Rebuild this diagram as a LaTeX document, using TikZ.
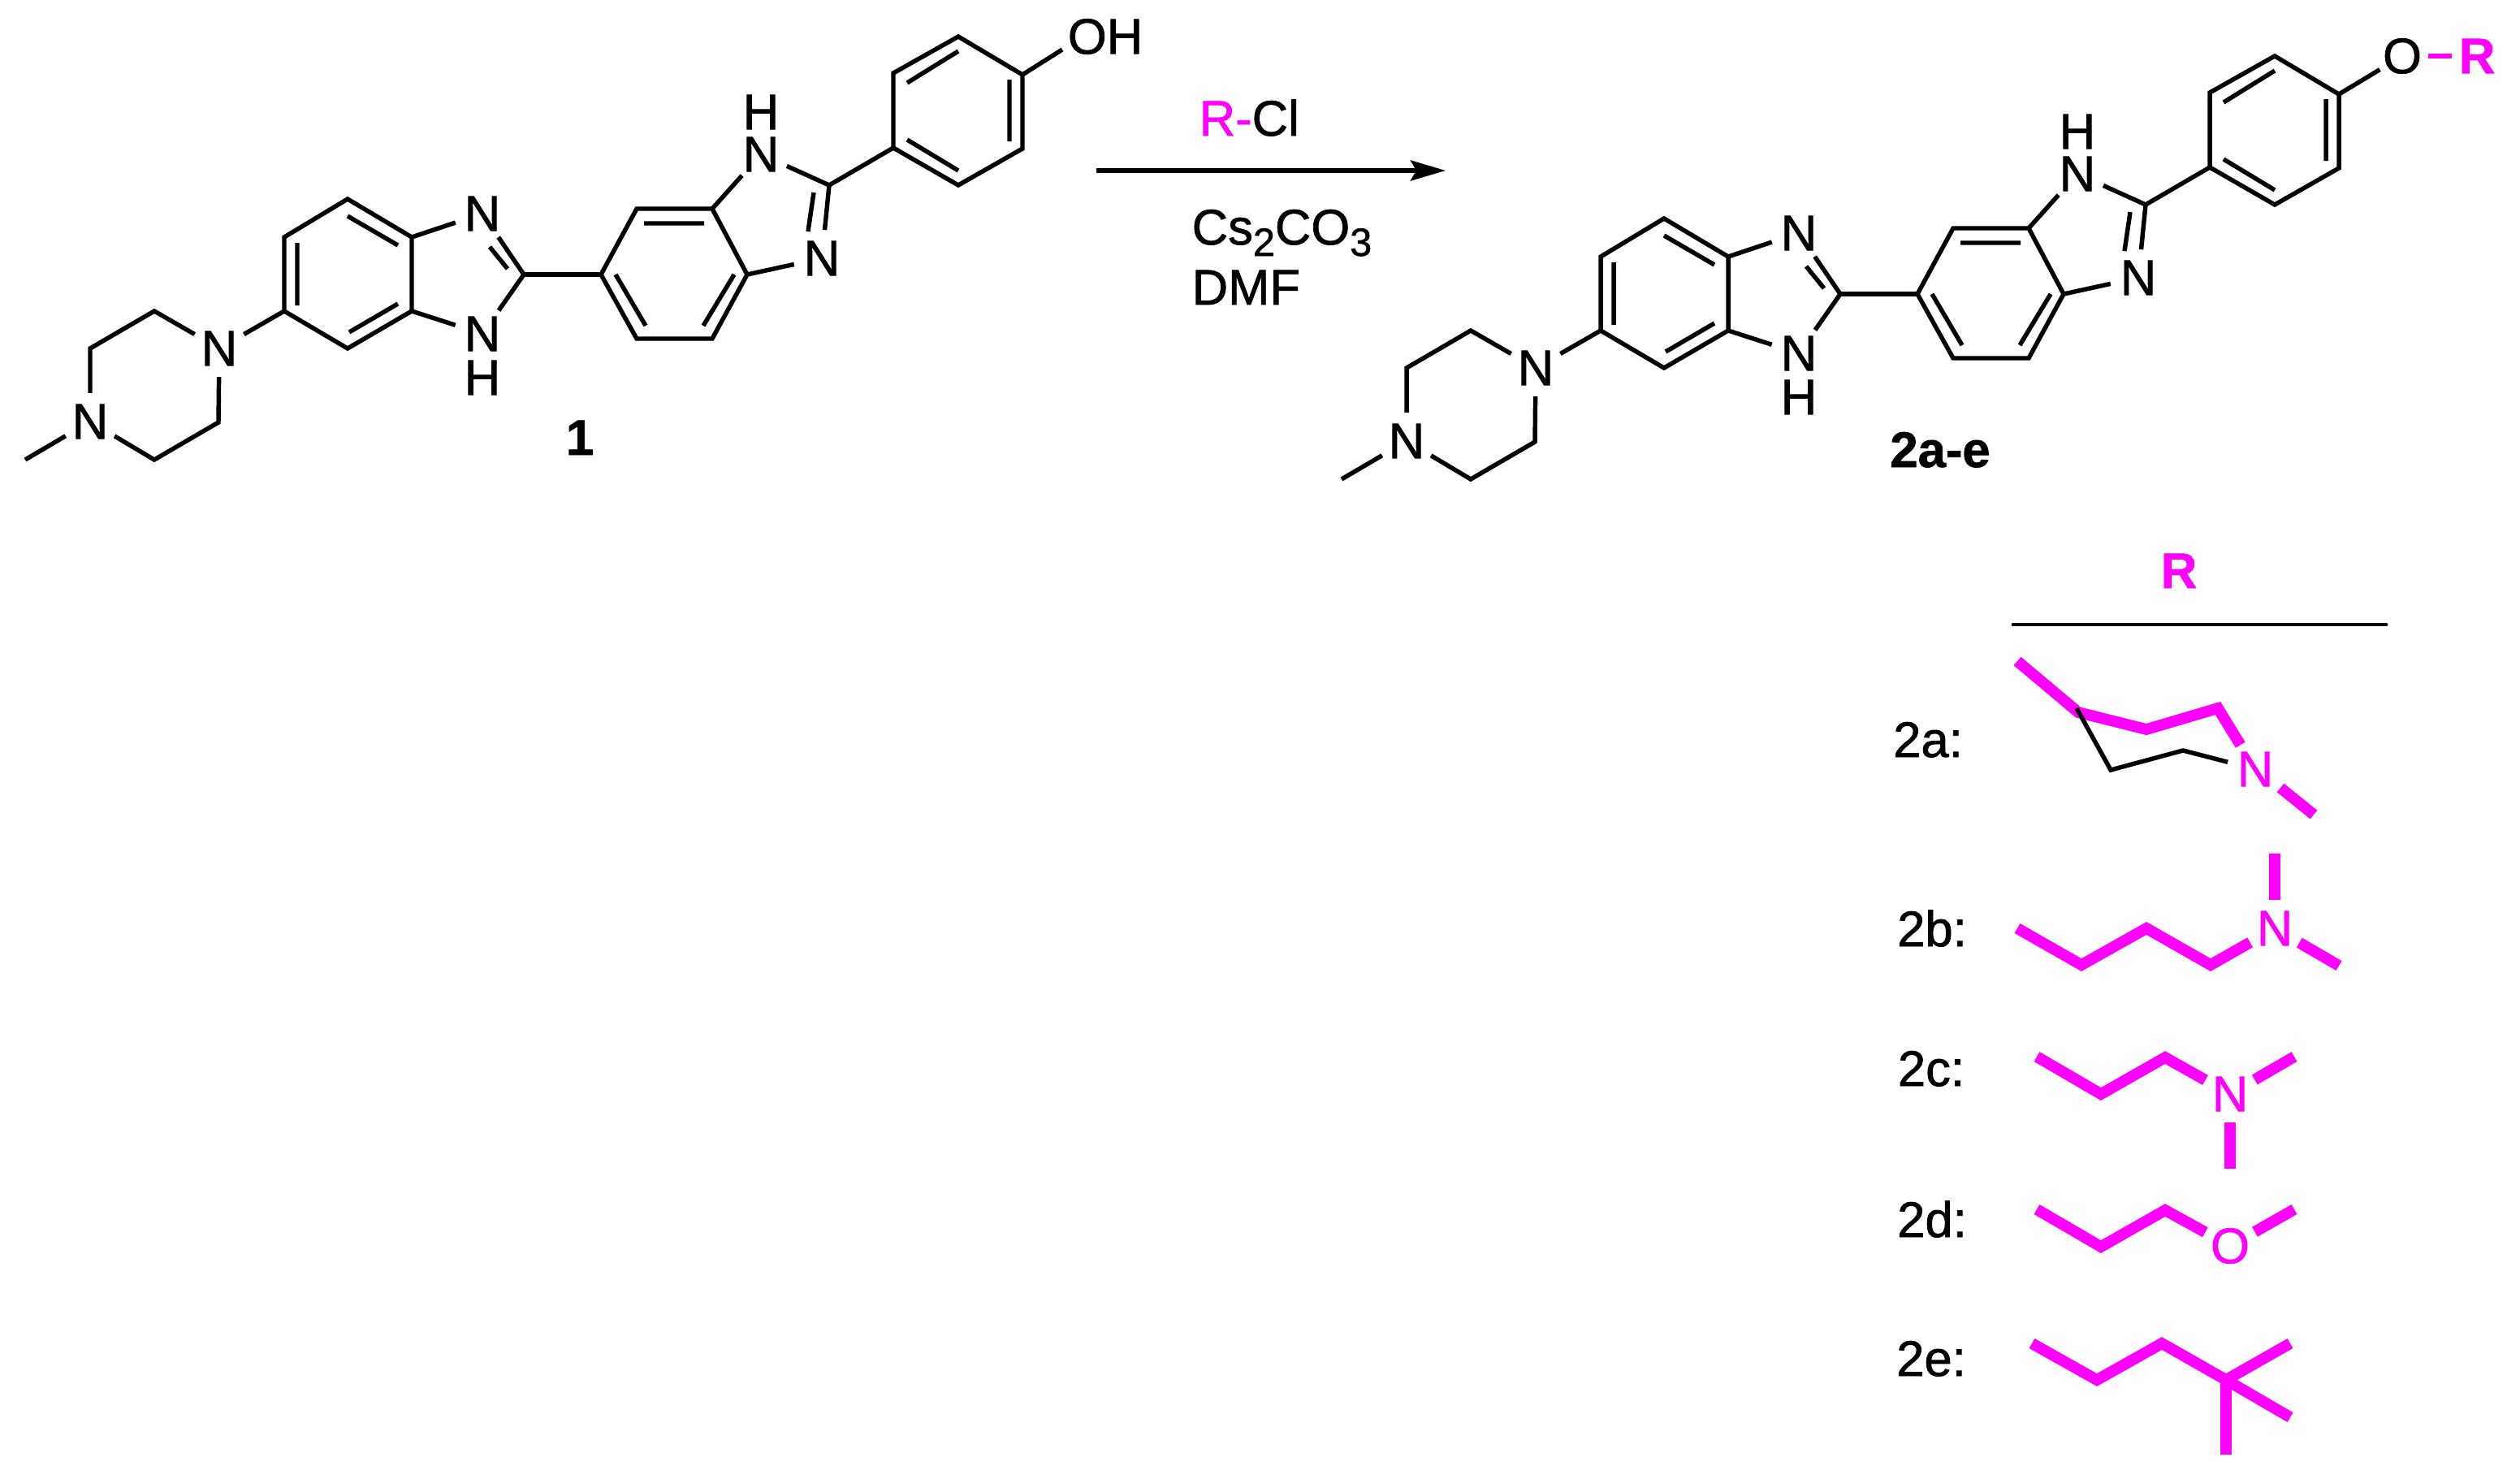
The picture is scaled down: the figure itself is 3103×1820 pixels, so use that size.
\documentclass[tikz,border=0pt]{standalone}
\usepackage{fontspec}
\setmainfont{Liberation Sans}[FakeBold=1.2,BoldFeatures={FakeBold=1.2}]
\usetikzlibrary{arrows.meta}
\definecolor{rmag}{RGB}{255,0,255}
\tikzset{
  bond/.style={line width=1.55pt,black,line join=miter},
  rchain/.style={line width=3.9pt,rmag,line join=miter},
  thinlabel/.style={font=\fontsize{17.5}{20}\selectfont},
  atom/.style={thinlabel,circle,inner sep=0pt,outer sep=0pt,minimum size=0.7cm},
  ratom/.style={atom,text=rmag},
  txt/.style={thinlabel,anchor=base,inner sep=0pt},
  boldtxt/.style={txt,font=\fontsize{17.5}{20}\selectfont\bfseries},
  rxnarrow/.style={line width=1.45pt,-{Stealth[length=0.43cm,width=0.25cm,inset=0.07cm]}},
  tablerule/.style={line width=1.35pt,line cap=round}
}
\newcommand{\molcore}[1]{%
  % left benzene
  \coordinate (#1a1) at (428,245); \coordinate (#1a2) at (507,292);
  \coordinate (#1a3) at (507,383); \coordinate (#1a4) at (428,429);
  \coordinate (#1a5) at (350,383); \coordinate (#1a6) at (350,292);
  % imidazole 1
  \coordinate (#1c2) at (645,338);
  \node[atom] (#1n1) at (594,263) {N};
  \node[atom] (#1n2) at (594,411) {N};
  \node[atom] (#1h2) at (594,465) {H};
  % central benzene
  \coordinate (#1b1) at (740,338); \coordinate (#1b2) at (784,257);
  \coordinate (#1b3) at (877,257); \coordinate (#1b4) at (920,338);
  \coordinate (#1b5) at (877,417); \coordinate (#1b6) at (784,417);
  % imidazole 2
  \coordinate (#1d2) at (1021,228);
  \node[atom] (#1n3) at (1012,318) {N};
  \node[atom] (#1n4) at (937,190) {N};
  \node[atom] (#1h4) at (937,138) {H};
  % phenyl
  \coordinate (#1c1) at (1100,182); \coordinate (#1cb) at (1100,90);
  \coordinate (#1cc) at (1180,45);  \coordinate (#1cd) at (1259,92);
  \coordinate (#1ce) at (1259,183); \coordinate (#1cf) at (1180,228);
  % piperazine
  \node[atom] (#1n5) at (270,429) {N};
  \node[atom] (#1n6) at (111,519) {N};
  \coordinate (#1p1) at (190,383); \coordinate (#1p2) at (111,429);
  \coordinate (#1p3) at (190,566); \coordinate (#1p4) at (269,520);
  \coordinate (#1me) at (31,566);
  % inner double bond ends
  \coordinate (#1i1) at (428,266); \coordinate (#1i2) at (490,302);
  \coordinate (#1i3) at (366,299); \coordinate (#1i4) at (366,376);
  \coordinate (#1i5) at (490,374); \coordinate (#1i6) at (430,409);
  \coordinate (#1i7) at (603,304); \coordinate (#1i8) at (625,331);
  \coordinate (#1i9) at (793,275); \coordinate (#1i10) at (867,275);
  \coordinate (#1i11) at (758,338); \coordinate (#1i12) at (795,401);
  \coordinate (#1i13) at (904,338); \coordinate (#1i14) at (866,401);
  \coordinate (#1i15) at (1002,237); \coordinate (#1i16) at (995,285);
  \coordinate (#1i17) at (1117,172); \coordinate (#1i18) at (1180,210);
  \coordinate (#1i19) at (1117,102); \coordinate (#1i20) at (1180,63);
  \coordinate (#1i21) at (1243,98); \coordinate (#1i22) at (1243,174);
  % rings
  \draw[bond] (#1a1)--(#1a2)--(#1a3)--(#1a4)--(#1a5)--(#1a6)--cycle;
  \draw[bond] (#1b1)--(#1b2)--(#1b3)--(#1b4)--(#1b5)--(#1b6)--cycle;
  \draw[bond] (#1c1)--(#1cb)--(#1cc)--(#1cd)--(#1ce)--(#1cf)--cycle;
  % inner lines
  \draw[bond] (#1i1)--(#1i2) (#1i3)--(#1i4) (#1i5)--(#1i6);
  \draw[bond] (#1i9)--(#1i10) (#1i11)--(#1i12) (#1i13)--(#1i14);
  \draw[bond] (#1i17)--(#1i18) (#1i19)--(#1i20) (#1i21)--(#1i22);
  % imidazole bonds
  \draw[bond] (#1a2)--(#1n1) (#1n1)--(#1c2) (#1i7)--(#1i8) (#1c2)--(#1n2) (#1n2)--(#1a3);
  \draw[bond] (#1c2)--(#1b1);
  \draw[bond] (#1b3)--(#1n4) (#1n4)--(#1d2) (#1d2)--(#1n3) (#1i15)--(#1i16) (#1n3)--(#1b4);
  \draw[bond] (#1d2)--(#1c1);
  % piperazine bonds
  \draw[bond] (#1a5)--(#1n5);
  \draw[bond] (#1n5)--(#1p1)--(#1p2)--(#1n6);
  \draw[bond] (#1n6)--(#1p3)--(#1p4)--(#1n5);
  \draw[bond] (#1n6)--(#1me);
}
\begin{document}
\begin{tikzpicture}[x=0.01cm,y=-0.01cm]
\useasboundingbox (0,0) rectangle (3103,1820);
\fill[white] (0,0) rectangle (3103,1820);

% compound 1
\begin{scope}
  \molcore{m}
\end{scope}
\node[thinlabel,inner sep=0pt] (mOH) at (1361,45) {OH};
\coordinate (mOHbond) at (1308,61);
\draw[bond] (mcd)--(mOHbond);
\node[boldtxt] (lab1) at (714,560) {1};

% arrow and reagents
\coordinate (arrS) at (1350,210);
\coordinate (arrE) at (1780,210);
\draw[rxnarrow] (arrS)--(arrE);
\node[thinlabel,anchor=base west,inner sep=0pt] (rcl) at (1476,167) {\textcolor{rmag}{R-}Cl};
\node[thinlabel,anchor=base west,inner sep=0pt] (cs) at (1467,301) {Cs\raisebox{-14\dimexpr 0.01cm\relax}{\fontsize{13.8}{15}\selectfont 2}CO\raisebox{-14\dimexpr 0.01cm\relax}{\fontsize{13.8}{15}\selectfont 3}};
\node[thinlabel,anchor=base west,inner sep=0pt] (dmf) at (1467,375) {DMF};

% compound 2
\begin{scope}[shift={(1621,24)}]
  \molcore{q}
\end{scope}
\node[atom,minimum size=0.62cm] (qO) at (2958,69) {O};
\node[atom,minimum size=0.58cm,text=rmag,font=\fontsize{17.5}{20}\selectfont\bfseries] (qR) at (3050,69) {R};
\draw[bond] (qcd)--(qO);
\draw[bond,rmag] (qO)--(qR);
\node[boldtxt] (lab2) at (2389,575) {2a-e};

% R table
\node[boldtxt,text=rmag] (rhead) at (2683,724) {R};
\coordinate (ruleL) at (2479,769);
\coordinate (ruleR) at (2938,769);
\draw[tablerule] (ruleL)--(ruleR);

% 2a
\node[txt] (l2a) at (2374,932) {2a:};
\node[ratom] (an) at (2777,947) {N};
\coordinate (a0) at (2484,814); \coordinate (a1) at (2559,877);
\coordinate (a2) at (2643,898); \coordinate (a3) at (2731,872);
\coordinate (am) at (2849,1003); \coordinate (am1) at (2808,970);
\coordinate (ab0) at (2557,872); \coordinate (ab1) at (2599,948); \coordinate (ab2) at (2688,924);
\draw[rchain] (a0)--(a1)--(a2)--(a3)--(an);
\draw[rchain] (am1)--(am);
\draw[bond] (ab0)--(ab1)--(ab2)--(an);

% 2b
\node[txt] (l2b) at (2379,1165) {2b:};
\node[ratom] (bn) at (2801,1143) {N};
\coordinate (b0) at (2484,1143); \coordinate (b1) at (2563,1188);
\coordinate (b2) at (2643,1143); \coordinate (b3) at (2722,1188);
\coordinate (bt) at (2801,1051); \coordinate (bm) at (2880,1189);
\draw[rchain] (b0)--(b1)--(b2)--(b3)--(bn);
\draw[rchain] (bn)--(bt);
\draw[rchain] (bn)--(bm);

% 2c
\node[txt] (l2c) at (2378,1337) {2c:};
\node[ratom] (cn) at (2746,1347) {N};
\coordinate (c0) at (2508,1301); \coordinate (c1) at (2587,1347);
\coordinate (c2) at (2666,1302); \coordinate (cm) at (2825,1301);
\coordinate (cb) at (2746,1439);
\draw[rchain] (c0)--(c1)--(c2)--(cn);
\draw[rchain] (cn)--(cm);
\draw[rchain] (cn)--(cb);

% 2d
\node[txt] (l2d) at (2379,1523) {2d:};
\node[ratom] (dn) at (2746,1534) {O};
\coordinate (d0) at (2508,1489); \coordinate (d1) at (2587,1535);
\coordinate (d2) at (2666,1490); \coordinate (dm) at (2825,1489);
\draw[rchain] (d0)--(d1)--(d2)--(dn);
\draw[rchain] (dn)--(dm);

% 2e
\node[txt] (l2e) at (2378,1694) {2e:};
\coordinate (e0) at (2502,1654); \coordinate (e1) at (2582,1699);
\coordinate (e2) at (2662,1654); \coordinate (e3) at (2741,1699);
\coordinate (e4) at (2820,1654); \coordinate (e5) at (2820,1745);
\coordinate (e6) at (2741,1791);
\draw[rchain] (e0)--(e1)--(e2)--(e3)--(e4);
\draw[rchain] (e3)--(e5);
\draw[rchain] (e3)--(e6);
\end{tikzpicture}
\end{document}
